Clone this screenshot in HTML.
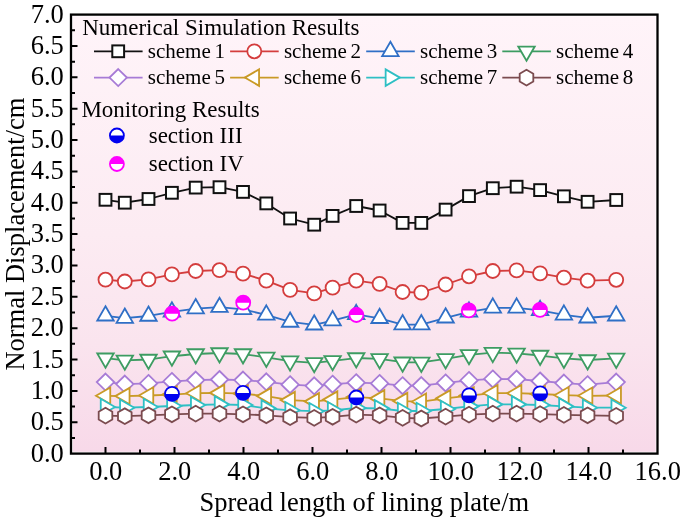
<!DOCTYPE html><html><head><meta charset="utf-8"><style>html,body{margin:0;padding:0;background:#fff;}svg{display:block;will-change:transform;}text{font-family:"Liberation Serif",serif;fill:#000;}</style></head><body>
<svg width="685" height="521" viewBox="0 0 685 521">
<defs><linearGradient id="bg" x1="0" y1="0" x2="0" y2="1"><stop offset="0" stop-color="rgb(255,244,249)"/><stop offset="0.5" stop-color="rgb(252,235,242)"/><stop offset="0.75" stop-color="rgb(250,228,238)"/><stop offset="1" stop-color="rgb(248,217,233)"/></linearGradient></defs>
<rect x="72.8" y="16.4" width="582.9" height="435.4" fill="url(#bg)"/>
<polyline points="105.5,199.8 124.8,202.7 148.5,199 171.9,192.8 195.7,187.6 219.5,187.2 243,191.9 266.3,203.4 290.1,218.5 314.2,224.7 332.6,215.9 356.2,206 379.6,210.5 402.6,222.9 421.3,222.9 445.6,209.6 469,196.1 492.8,188.2 516.6,186.7 540.1,190.1 563.9,196.3 587.6,201.8 616.2,200" fill="none" stroke="#111111" stroke-width="1.8" stroke-linejoin="round"/>
<rect x="99.6" y="193.9" width="11.8" height="11.8" fill="#fff" stroke="#111111" stroke-width="2"/>
<rect x="118.9" y="196.8" width="11.8" height="11.8" fill="#fff" stroke="#111111" stroke-width="2"/>
<rect x="142.6" y="193.1" width="11.8" height="11.8" fill="#fff" stroke="#111111" stroke-width="2"/>
<rect x="166" y="186.9" width="11.8" height="11.8" fill="#fff" stroke="#111111" stroke-width="2"/>
<rect x="189.8" y="181.7" width="11.8" height="11.8" fill="#fff" stroke="#111111" stroke-width="2"/>
<rect x="213.6" y="181.3" width="11.8" height="11.8" fill="#fff" stroke="#111111" stroke-width="2"/>
<rect x="237.1" y="186" width="11.8" height="11.8" fill="#fff" stroke="#111111" stroke-width="2"/>
<rect x="260.4" y="197.5" width="11.8" height="11.8" fill="#fff" stroke="#111111" stroke-width="2"/>
<rect x="284.2" y="212.6" width="11.8" height="11.8" fill="#fff" stroke="#111111" stroke-width="2"/>
<rect x="308.3" y="218.8" width="11.8" height="11.8" fill="#fff" stroke="#111111" stroke-width="2"/>
<rect x="326.7" y="210" width="11.8" height="11.8" fill="#fff" stroke="#111111" stroke-width="2"/>
<rect x="350.3" y="200.1" width="11.8" height="11.8" fill="#fff" stroke="#111111" stroke-width="2"/>
<rect x="373.7" y="204.6" width="11.8" height="11.8" fill="#fff" stroke="#111111" stroke-width="2"/>
<rect x="396.7" y="217" width="11.8" height="11.8" fill="#fff" stroke="#111111" stroke-width="2"/>
<rect x="415.4" y="217" width="11.8" height="11.8" fill="#fff" stroke="#111111" stroke-width="2"/>
<rect x="439.7" y="203.7" width="11.8" height="11.8" fill="#fff" stroke="#111111" stroke-width="2"/>
<rect x="463.1" y="190.2" width="11.8" height="11.8" fill="#fff" stroke="#111111" stroke-width="2"/>
<rect x="486.9" y="182.3" width="11.8" height="11.8" fill="#fff" stroke="#111111" stroke-width="2"/>
<rect x="510.7" y="180.8" width="11.8" height="11.8" fill="#fff" stroke="#111111" stroke-width="2"/>
<rect x="534.2" y="184.2" width="11.8" height="11.8" fill="#fff" stroke="#111111" stroke-width="2"/>
<rect x="558" y="190.4" width="11.8" height="11.8" fill="#fff" stroke="#111111" stroke-width="2"/>
<rect x="581.7" y="195.9" width="11.8" height="11.8" fill="#fff" stroke="#111111" stroke-width="2"/>
<rect x="610.3" y="194.1" width="11.8" height="11.8" fill="#fff" stroke="#111111" stroke-width="2"/>
<polyline points="105.5,279.7 124.8,281.5 148.5,279.4 171.9,274.4 195.7,271 219.5,270.2 243,273.6 266.3,280.7 290.1,289.9 314.2,293.4 332.6,287.6 356.2,280.7 379.6,283.9 402.6,292 421.3,292.6 445.6,284.5 469,276.3 492.8,271 516.6,270.4 540.1,273.4 563.9,277.7 587.6,280.7 616.2,279.8" fill="none" stroke="#d43d3d" stroke-width="1.8" stroke-linejoin="round"/>
<circle cx="105.5" cy="279.7" r="7" fill="#fff" stroke="#d43d3d" stroke-width="1.8"/>
<circle cx="124.8" cy="281.5" r="7" fill="#fff" stroke="#d43d3d" stroke-width="1.8"/>
<circle cx="148.5" cy="279.4" r="7" fill="#fff" stroke="#d43d3d" stroke-width="1.8"/>
<circle cx="171.9" cy="274.4" r="7" fill="#fff" stroke="#d43d3d" stroke-width="1.8"/>
<circle cx="195.7" cy="271" r="7" fill="#fff" stroke="#d43d3d" stroke-width="1.8"/>
<circle cx="219.5" cy="270.2" r="7" fill="#fff" stroke="#d43d3d" stroke-width="1.8"/>
<circle cx="243" cy="273.6" r="7" fill="#fff" stroke="#d43d3d" stroke-width="1.8"/>
<circle cx="266.3" cy="280.7" r="7" fill="#fff" stroke="#d43d3d" stroke-width="1.8"/>
<circle cx="290.1" cy="289.9" r="7" fill="#fff" stroke="#d43d3d" stroke-width="1.8"/>
<circle cx="314.2" cy="293.4" r="7" fill="#fff" stroke="#d43d3d" stroke-width="1.8"/>
<circle cx="332.6" cy="287.6" r="7" fill="#fff" stroke="#d43d3d" stroke-width="1.8"/>
<circle cx="356.2" cy="280.7" r="7" fill="#fff" stroke="#d43d3d" stroke-width="1.8"/>
<circle cx="379.6" cy="283.9" r="7" fill="#fff" stroke="#d43d3d" stroke-width="1.8"/>
<circle cx="402.6" cy="292" r="7" fill="#fff" stroke="#d43d3d" stroke-width="1.8"/>
<circle cx="421.3" cy="292.6" r="7" fill="#fff" stroke="#d43d3d" stroke-width="1.8"/>
<circle cx="445.6" cy="284.5" r="7" fill="#fff" stroke="#d43d3d" stroke-width="1.8"/>
<circle cx="469" cy="276.3" r="7" fill="#fff" stroke="#d43d3d" stroke-width="1.8"/>
<circle cx="492.8" cy="271" r="7" fill="#fff" stroke="#d43d3d" stroke-width="1.8"/>
<circle cx="516.6" cy="270.4" r="7" fill="#fff" stroke="#d43d3d" stroke-width="1.8"/>
<circle cx="540.1" cy="273.4" r="7" fill="#fff" stroke="#d43d3d" stroke-width="1.8"/>
<circle cx="563.9" cy="277.7" r="7" fill="#fff" stroke="#d43d3d" stroke-width="1.8"/>
<circle cx="587.6" cy="280.7" r="7" fill="#fff" stroke="#d43d3d" stroke-width="1.8"/>
<circle cx="616.2" cy="279.8" r="7" fill="#fff" stroke="#d43d3d" stroke-width="1.8"/>
<polyline points="105.5,315.77 124.8,318.07 148.5,315.98 171.9,311.77 195.7,308.57 219.5,307.18 243,309.38 266.3,314.88 290.1,321.98 314.2,324.77 332.6,320.57 356.2,314.38 379.6,318.27 402.6,324.57 421.3,324.57 445.6,317.77 469,311.88 492.8,307.88 516.6,307.88 540.1,310.38 563.9,314.88 587.6,317.77 616.2,315.77" fill="none" stroke="#2f6fc6" stroke-width="1.8" stroke-linejoin="round"/>
<polygon points="105.5,306.27 113.73,320.52 97.27,320.52" fill="#fff" stroke="#2f6fc6" stroke-width="1.8" stroke-linejoin="miter"/>
<polygon points="124.8,308.57 133.03,322.82 116.57,322.82" fill="#fff" stroke="#2f6fc6" stroke-width="1.8" stroke-linejoin="miter"/>
<polygon points="148.5,306.48 156.73,320.73 140.27,320.73" fill="#fff" stroke="#2f6fc6" stroke-width="1.8" stroke-linejoin="miter"/>
<polygon points="171.9,302.27 180.13,316.52 163.67,316.52" fill="#fff" stroke="#2f6fc6" stroke-width="1.8" stroke-linejoin="miter"/>
<polygon points="195.7,299.07 203.93,313.32 187.47,313.32" fill="#fff" stroke="#2f6fc6" stroke-width="1.8" stroke-linejoin="miter"/>
<polygon points="219.5,297.68 227.73,311.93 211.27,311.93" fill="#fff" stroke="#2f6fc6" stroke-width="1.8" stroke-linejoin="miter"/>
<polygon points="243,299.88 251.23,314.12 234.77,314.12" fill="#fff" stroke="#2f6fc6" stroke-width="1.8" stroke-linejoin="miter"/>
<polygon points="266.3,305.38 274.53,319.62 258.07,319.62" fill="#fff" stroke="#2f6fc6" stroke-width="1.8" stroke-linejoin="miter"/>
<polygon points="290.1,312.48 298.33,326.73 281.87,326.73" fill="#fff" stroke="#2f6fc6" stroke-width="1.8" stroke-linejoin="miter"/>
<polygon points="314.2,315.27 322.43,329.52 305.97,329.52" fill="#fff" stroke="#2f6fc6" stroke-width="1.8" stroke-linejoin="miter"/>
<polygon points="332.6,311.07 340.83,325.32 324.37,325.32" fill="#fff" stroke="#2f6fc6" stroke-width="1.8" stroke-linejoin="miter"/>
<polygon points="356.2,304.88 364.43,319.12 347.97,319.12" fill="#fff" stroke="#2f6fc6" stroke-width="1.8" stroke-linejoin="miter"/>
<polygon points="379.6,308.77 387.83,323.02 371.37,323.02" fill="#fff" stroke="#2f6fc6" stroke-width="1.8" stroke-linejoin="miter"/>
<polygon points="402.6,315.07 410.83,329.32 394.37,329.32" fill="#fff" stroke="#2f6fc6" stroke-width="1.8" stroke-linejoin="miter"/>
<polygon points="421.3,315.07 429.53,329.32 413.07,329.32" fill="#fff" stroke="#2f6fc6" stroke-width="1.8" stroke-linejoin="miter"/>
<polygon points="445.6,308.27 453.83,322.52 437.37,322.52" fill="#fff" stroke="#2f6fc6" stroke-width="1.8" stroke-linejoin="miter"/>
<polygon points="469,302.38 477.23,316.62 460.77,316.62" fill="#fff" stroke="#2f6fc6" stroke-width="1.8" stroke-linejoin="miter"/>
<polygon points="492.8,298.38 501.03,312.62 484.57,312.62" fill="#fff" stroke="#2f6fc6" stroke-width="1.8" stroke-linejoin="miter"/>
<polygon points="516.6,298.38 524.83,312.62 508.37,312.62" fill="#fff" stroke="#2f6fc6" stroke-width="1.8" stroke-linejoin="miter"/>
<polygon points="540.1,300.88 548.33,315.12 531.87,315.12" fill="#fff" stroke="#2f6fc6" stroke-width="1.8" stroke-linejoin="miter"/>
<polygon points="563.9,305.38 572.13,319.62 555.67,319.62" fill="#fff" stroke="#2f6fc6" stroke-width="1.8" stroke-linejoin="miter"/>
<polygon points="587.6,308.27 595.83,322.52 579.37,322.52" fill="#fff" stroke="#2f6fc6" stroke-width="1.8" stroke-linejoin="miter"/>
<polygon points="616.2,306.27 624.43,320.52 607.97,320.52" fill="#fff" stroke="#2f6fc6" stroke-width="1.8" stroke-linejoin="miter"/>
<polyline points="105.5,358.23 124.8,360.32 148.5,359.52 171.9,356.23 195.7,354.02 219.5,353.02 243,354.02 266.3,357.43 290.1,361.12 314.2,362.82 332.6,360.82 356.2,358.02 379.6,358.93 402.6,362.23 421.3,362.43 445.6,358.93 469,354.82 492.8,352.62 516.6,353.32 540.1,355.52 563.9,358.43 587.6,360.02 616.2,358.43" fill="none" stroke="#3d9c62" stroke-width="1.8" stroke-linejoin="round"/>
<polygon points="105.5,367.73 113.73,353.48 97.27,353.48" fill="#fff" stroke="#3d9c62" stroke-width="1.8" stroke-linejoin="miter"/>
<polygon points="124.8,369.82 133.03,355.57 116.57,355.57" fill="#fff" stroke="#3d9c62" stroke-width="1.8" stroke-linejoin="miter"/>
<polygon points="148.5,369.02 156.73,354.77 140.27,354.77" fill="#fff" stroke="#3d9c62" stroke-width="1.8" stroke-linejoin="miter"/>
<polygon points="171.9,365.73 180.13,351.48 163.67,351.48" fill="#fff" stroke="#3d9c62" stroke-width="1.8" stroke-linejoin="miter"/>
<polygon points="195.7,363.52 203.93,349.27 187.47,349.27" fill="#fff" stroke="#3d9c62" stroke-width="1.8" stroke-linejoin="miter"/>
<polygon points="219.5,362.52 227.73,348.27 211.27,348.27" fill="#fff" stroke="#3d9c62" stroke-width="1.8" stroke-linejoin="miter"/>
<polygon points="243,363.52 251.23,349.27 234.77,349.27" fill="#fff" stroke="#3d9c62" stroke-width="1.8" stroke-linejoin="miter"/>
<polygon points="266.3,366.93 274.53,352.68 258.07,352.68" fill="#fff" stroke="#3d9c62" stroke-width="1.8" stroke-linejoin="miter"/>
<polygon points="290.1,370.62 298.33,356.38 281.87,356.38" fill="#fff" stroke="#3d9c62" stroke-width="1.8" stroke-linejoin="miter"/>
<polygon points="314.2,372.32 322.43,358.07 305.97,358.07" fill="#fff" stroke="#3d9c62" stroke-width="1.8" stroke-linejoin="miter"/>
<polygon points="332.6,370.32 340.83,356.07 324.37,356.07" fill="#fff" stroke="#3d9c62" stroke-width="1.8" stroke-linejoin="miter"/>
<polygon points="356.2,367.52 364.43,353.27 347.97,353.27" fill="#fff" stroke="#3d9c62" stroke-width="1.8" stroke-linejoin="miter"/>
<polygon points="379.6,368.43 387.83,354.18 371.37,354.18" fill="#fff" stroke="#3d9c62" stroke-width="1.8" stroke-linejoin="miter"/>
<polygon points="402.6,371.73 410.83,357.48 394.37,357.48" fill="#fff" stroke="#3d9c62" stroke-width="1.8" stroke-linejoin="miter"/>
<polygon points="421.3,371.93 429.53,357.68 413.07,357.68" fill="#fff" stroke="#3d9c62" stroke-width="1.8" stroke-linejoin="miter"/>
<polygon points="445.6,368.43 453.83,354.18 437.37,354.18" fill="#fff" stroke="#3d9c62" stroke-width="1.8" stroke-linejoin="miter"/>
<polygon points="469,364.32 477.23,350.07 460.77,350.07" fill="#fff" stroke="#3d9c62" stroke-width="1.8" stroke-linejoin="miter"/>
<polygon points="492.8,362.12 501.03,347.88 484.57,347.88" fill="#fff" stroke="#3d9c62" stroke-width="1.8" stroke-linejoin="miter"/>
<polygon points="516.6,362.82 524.83,348.57 508.37,348.57" fill="#fff" stroke="#3d9c62" stroke-width="1.8" stroke-linejoin="miter"/>
<polygon points="540.1,365.02 548.33,350.77 531.87,350.77" fill="#fff" stroke="#3d9c62" stroke-width="1.8" stroke-linejoin="miter"/>
<polygon points="563.9,367.93 572.13,353.68 555.67,353.68" fill="#fff" stroke="#3d9c62" stroke-width="1.8" stroke-linejoin="miter"/>
<polygon points="587.6,369.52 595.83,355.27 579.37,355.27" fill="#fff" stroke="#3d9c62" stroke-width="1.8" stroke-linejoin="miter"/>
<polygon points="616.2,367.93 624.43,353.68 607.97,353.68" fill="#fff" stroke="#3d9c62" stroke-width="1.8" stroke-linejoin="miter"/>
<polyline points="105.5,382.1 124.8,384.1 148.5,383.4 171.9,381.4 195.7,380.1 219.5,379.5 243,380.1 266.3,381.8 290.1,384.7 314.2,385.8 332.6,384.2 356.2,382.7 379.6,383.4 402.6,385.7 421.3,385.6 445.6,382.9 469,380.4 492.8,378.9 516.6,379.1 540.1,381 563.9,383.1 587.6,384.7 616.2,382.1" fill="none" stroke="#a77bd6" stroke-width="1.8" stroke-linejoin="round"/>
<polygon points="105.5,373.6 114.2,382.1 105.5,390.6 96.8,382.1" fill="#fff" stroke="#a77bd6" stroke-width="1.8" stroke-linejoin="miter"/>
<polygon points="124.8,375.6 133.5,384.1 124.8,392.6 116.1,384.1" fill="#fff" stroke="#a77bd6" stroke-width="1.8" stroke-linejoin="miter"/>
<polygon points="148.5,374.9 157.2,383.4 148.5,391.9 139.8,383.4" fill="#fff" stroke="#a77bd6" stroke-width="1.8" stroke-linejoin="miter"/>
<polygon points="171.9,372.9 180.6,381.4 171.9,389.9 163.2,381.4" fill="#fff" stroke="#a77bd6" stroke-width="1.8" stroke-linejoin="miter"/>
<polygon points="195.7,371.6 204.4,380.1 195.7,388.6 187,380.1" fill="#fff" stroke="#a77bd6" stroke-width="1.8" stroke-linejoin="miter"/>
<polygon points="219.5,371 228.2,379.5 219.5,388 210.8,379.5" fill="#fff" stroke="#a77bd6" stroke-width="1.8" stroke-linejoin="miter"/>
<polygon points="243,371.6 251.7,380.1 243,388.6 234.3,380.1" fill="#fff" stroke="#a77bd6" stroke-width="1.8" stroke-linejoin="miter"/>
<polygon points="266.3,373.3 275,381.8 266.3,390.3 257.6,381.8" fill="#fff" stroke="#a77bd6" stroke-width="1.8" stroke-linejoin="miter"/>
<polygon points="290.1,376.2 298.8,384.7 290.1,393.2 281.4,384.7" fill="#fff" stroke="#a77bd6" stroke-width="1.8" stroke-linejoin="miter"/>
<polygon points="314.2,377.3 322.9,385.8 314.2,394.3 305.5,385.8" fill="#fff" stroke="#a77bd6" stroke-width="1.8" stroke-linejoin="miter"/>
<polygon points="332.6,375.7 341.3,384.2 332.6,392.7 323.9,384.2" fill="#fff" stroke="#a77bd6" stroke-width="1.8" stroke-linejoin="miter"/>
<polygon points="356.2,374.2 364.9,382.7 356.2,391.2 347.5,382.7" fill="#fff" stroke="#a77bd6" stroke-width="1.8" stroke-linejoin="miter"/>
<polygon points="379.6,374.9 388.3,383.4 379.6,391.9 370.9,383.4" fill="#fff" stroke="#a77bd6" stroke-width="1.8" stroke-linejoin="miter"/>
<polygon points="402.6,377.2 411.3,385.7 402.6,394.2 393.9,385.7" fill="#fff" stroke="#a77bd6" stroke-width="1.8" stroke-linejoin="miter"/>
<polygon points="421.3,377.1 430,385.6 421.3,394.1 412.6,385.6" fill="#fff" stroke="#a77bd6" stroke-width="1.8" stroke-linejoin="miter"/>
<polygon points="445.6,374.4 454.3,382.9 445.6,391.4 436.9,382.9" fill="#fff" stroke="#a77bd6" stroke-width="1.8" stroke-linejoin="miter"/>
<polygon points="469,371.9 477.7,380.4 469,388.9 460.3,380.4" fill="#fff" stroke="#a77bd6" stroke-width="1.8" stroke-linejoin="miter"/>
<polygon points="492.8,370.4 501.5,378.9 492.8,387.4 484.1,378.9" fill="#fff" stroke="#a77bd6" stroke-width="1.8" stroke-linejoin="miter"/>
<polygon points="516.6,370.6 525.3,379.1 516.6,387.6 507.9,379.1" fill="#fff" stroke="#a77bd6" stroke-width="1.8" stroke-linejoin="miter"/>
<polygon points="540.1,372.5 548.8,381 540.1,389.5 531.4,381" fill="#fff" stroke="#a77bd6" stroke-width="1.8" stroke-linejoin="miter"/>
<polygon points="563.9,374.6 572.6,383.1 563.9,391.6 555.2,383.1" fill="#fff" stroke="#a77bd6" stroke-width="1.8" stroke-linejoin="miter"/>
<polygon points="587.6,376.2 596.3,384.7 587.6,393.2 578.9,384.7" fill="#fff" stroke="#a77bd6" stroke-width="1.8" stroke-linejoin="miter"/>
<polygon points="616.2,373.6 624.9,382.1 616.2,390.6 607.5,382.1" fill="#fff" stroke="#a77bd6" stroke-width="1.8" stroke-linejoin="miter"/>
<polyline points="105.5,395.8 124.8,396.1 148.5,395.5 171.9,394.6 195.7,393.2 219.5,392.9 243,393.6 266.3,396.1 290.1,400.1 314.2,401.4 332.6,399.6 356.2,397.1 379.6,398.4 402.6,401.1 421.3,401.7 445.6,398.4 469,395.6 492.8,393.2 516.6,393.2 540.1,394 563.9,395.2 587.6,395.8 616.2,395.5" fill="none" stroke="#c99a26" stroke-width="1.8" stroke-linejoin="round"/>
<polygon points="96,395.8 110.25,387.57 110.25,404.03" fill="#fff" stroke="#c99a26" stroke-width="1.8" stroke-linejoin="miter"/>
<polygon points="115.3,396.1 129.55,387.87 129.55,404.33" fill="#fff" stroke="#c99a26" stroke-width="1.8" stroke-linejoin="miter"/>
<polygon points="139,395.5 153.25,387.27 153.25,403.73" fill="#fff" stroke="#c99a26" stroke-width="1.8" stroke-linejoin="miter"/>
<polygon points="162.4,394.6 176.65,386.37 176.65,402.83" fill="#fff" stroke="#c99a26" stroke-width="1.8" stroke-linejoin="miter"/>
<polygon points="186.2,393.2 200.45,384.97 200.45,401.43" fill="#fff" stroke="#c99a26" stroke-width="1.8" stroke-linejoin="miter"/>
<polygon points="210,392.9 224.25,384.67 224.25,401.13" fill="#fff" stroke="#c99a26" stroke-width="1.8" stroke-linejoin="miter"/>
<polygon points="233.5,393.6 247.75,385.37 247.75,401.83" fill="#fff" stroke="#c99a26" stroke-width="1.8" stroke-linejoin="miter"/>
<polygon points="256.8,396.1 271.05,387.87 271.05,404.33" fill="#fff" stroke="#c99a26" stroke-width="1.8" stroke-linejoin="miter"/>
<polygon points="280.6,400.1 294.85,391.87 294.85,408.33" fill="#fff" stroke="#c99a26" stroke-width="1.8" stroke-linejoin="miter"/>
<polygon points="304.7,401.4 318.95,393.17 318.95,409.63" fill="#fff" stroke="#c99a26" stroke-width="1.8" stroke-linejoin="miter"/>
<polygon points="323.1,399.6 337.35,391.37 337.35,407.83" fill="#fff" stroke="#c99a26" stroke-width="1.8" stroke-linejoin="miter"/>
<polygon points="346.7,397.1 360.95,388.87 360.95,405.33" fill="#fff" stroke="#c99a26" stroke-width="1.8" stroke-linejoin="miter"/>
<polygon points="370.1,398.4 384.35,390.17 384.35,406.63" fill="#fff" stroke="#c99a26" stroke-width="1.8" stroke-linejoin="miter"/>
<polygon points="393.1,401.1 407.35,392.87 407.35,409.33" fill="#fff" stroke="#c99a26" stroke-width="1.8" stroke-linejoin="miter"/>
<polygon points="411.8,401.7 426.05,393.47 426.05,409.93" fill="#fff" stroke="#c99a26" stroke-width="1.8" stroke-linejoin="miter"/>
<polygon points="436.1,398.4 450.35,390.17 450.35,406.63" fill="#fff" stroke="#c99a26" stroke-width="1.8" stroke-linejoin="miter"/>
<polygon points="459.5,395.6 473.75,387.37 473.75,403.83" fill="#fff" stroke="#c99a26" stroke-width="1.8" stroke-linejoin="miter"/>
<polygon points="483.3,393.2 497.55,384.97 497.55,401.43" fill="#fff" stroke="#c99a26" stroke-width="1.8" stroke-linejoin="miter"/>
<polygon points="507.1,393.2 521.35,384.97 521.35,401.43" fill="#fff" stroke="#c99a26" stroke-width="1.8" stroke-linejoin="miter"/>
<polygon points="530.6,394 544.85,385.77 544.85,402.23" fill="#fff" stroke="#c99a26" stroke-width="1.8" stroke-linejoin="miter"/>
<polygon points="554.4,395.2 568.65,386.97 568.65,403.43" fill="#fff" stroke="#c99a26" stroke-width="1.8" stroke-linejoin="miter"/>
<polygon points="578.1,395.8 592.35,387.57 592.35,404.03" fill="#fff" stroke="#c99a26" stroke-width="1.8" stroke-linejoin="miter"/>
<polygon points="606.7,395.5 620.95,387.27 620.95,403.73" fill="#fff" stroke="#c99a26" stroke-width="1.8" stroke-linejoin="miter"/>
<polyline points="105.5,407 124.8,407.7 148.5,407 171.9,406 195.7,405 219.5,404.4 243,405 266.3,408.4 290.1,410.3 314.2,411.2 332.6,410.3 356.2,408 379.6,408.4 402.6,411 421.3,411 445.6,409 469,406.4 492.8,404.4 516.6,404.4 540.1,405 563.9,406.4 587.6,407.7 616.2,407.7" fill="none" stroke="#2ebfc4" stroke-width="1.8" stroke-linejoin="round"/>
<polygon points="115,407 100.75,398.77 100.75,415.23" fill="#fff" stroke="#2ebfc4" stroke-width="1.8" stroke-linejoin="miter"/>
<polygon points="134.3,407.7 120.05,399.47 120.05,415.93" fill="#fff" stroke="#2ebfc4" stroke-width="1.8" stroke-linejoin="miter"/>
<polygon points="158,407 143.75,398.77 143.75,415.23" fill="#fff" stroke="#2ebfc4" stroke-width="1.8" stroke-linejoin="miter"/>
<polygon points="181.4,406 167.15,397.77 167.15,414.23" fill="#fff" stroke="#2ebfc4" stroke-width="1.8" stroke-linejoin="miter"/>
<polygon points="205.2,405 190.95,396.77 190.95,413.23" fill="#fff" stroke="#2ebfc4" stroke-width="1.8" stroke-linejoin="miter"/>
<polygon points="229,404.4 214.75,396.17 214.75,412.63" fill="#fff" stroke="#2ebfc4" stroke-width="1.8" stroke-linejoin="miter"/>
<polygon points="252.5,405 238.25,396.77 238.25,413.23" fill="#fff" stroke="#2ebfc4" stroke-width="1.8" stroke-linejoin="miter"/>
<polygon points="275.8,408.4 261.55,400.17 261.55,416.63" fill="#fff" stroke="#2ebfc4" stroke-width="1.8" stroke-linejoin="miter"/>
<polygon points="299.6,410.3 285.35,402.07 285.35,418.53" fill="#fff" stroke="#2ebfc4" stroke-width="1.8" stroke-linejoin="miter"/>
<polygon points="323.7,411.2 309.45,402.97 309.45,419.43" fill="#fff" stroke="#2ebfc4" stroke-width="1.8" stroke-linejoin="miter"/>
<polygon points="342.1,410.3 327.85,402.07 327.85,418.53" fill="#fff" stroke="#2ebfc4" stroke-width="1.8" stroke-linejoin="miter"/>
<polygon points="365.7,408 351.45,399.77 351.45,416.23" fill="#fff" stroke="#2ebfc4" stroke-width="1.8" stroke-linejoin="miter"/>
<polygon points="389.1,408.4 374.85,400.17 374.85,416.63" fill="#fff" stroke="#2ebfc4" stroke-width="1.8" stroke-linejoin="miter"/>
<polygon points="412.1,411 397.85,402.77 397.85,419.23" fill="#fff" stroke="#2ebfc4" stroke-width="1.8" stroke-linejoin="miter"/>
<polygon points="430.8,411 416.55,402.77 416.55,419.23" fill="#fff" stroke="#2ebfc4" stroke-width="1.8" stroke-linejoin="miter"/>
<polygon points="455.1,409 440.85,400.77 440.85,417.23" fill="#fff" stroke="#2ebfc4" stroke-width="1.8" stroke-linejoin="miter"/>
<polygon points="478.5,406.4 464.25,398.17 464.25,414.63" fill="#fff" stroke="#2ebfc4" stroke-width="1.8" stroke-linejoin="miter"/>
<polygon points="502.3,404.4 488.05,396.17 488.05,412.63" fill="#fff" stroke="#2ebfc4" stroke-width="1.8" stroke-linejoin="miter"/>
<polygon points="526.1,404.4 511.85,396.17 511.85,412.63" fill="#fff" stroke="#2ebfc4" stroke-width="1.8" stroke-linejoin="miter"/>
<polygon points="549.6,405 535.35,396.77 535.35,413.23" fill="#fff" stroke="#2ebfc4" stroke-width="1.8" stroke-linejoin="miter"/>
<polygon points="573.4,406.4 559.15,398.17 559.15,414.63" fill="#fff" stroke="#2ebfc4" stroke-width="1.8" stroke-linejoin="miter"/>
<polygon points="597.1,407.7 582.85,399.47 582.85,415.93" fill="#fff" stroke="#2ebfc4" stroke-width="1.8" stroke-linejoin="miter"/>
<polygon points="625.7,407.7 611.45,399.47 611.45,415.93" fill="#fff" stroke="#2ebfc4" stroke-width="1.8" stroke-linejoin="miter"/>
<polyline points="105.5,415.6 124.8,416.2 148.5,415.3 171.9,414.3 195.7,413.6 219.5,413.6 243,414.3 266.3,415.3 290.1,417.2 314.2,417.9 332.6,416.8 356.2,414.6 379.6,415.3 402.6,417.9 421.3,418.5 445.6,416.6 469,414.6 492.8,413.6 516.6,413.6 540.1,414.1 563.9,414.9 587.6,415.3 616.2,415.9" fill="none" stroke="#7b4b4f" stroke-width="1.8" stroke-linejoin="round"/>
<polygon points="105.5,407.75 98.7,411.68 98.7,419.53 105.5,423.45 112.3,419.53 112.3,411.68" fill="#fff" stroke="#7b4b4f" stroke-width="1.8" stroke-linejoin="miter"/>
<polygon points="124.8,408.35 118,412.27 118,420.12 124.8,424.05 131.6,420.12 131.6,412.27" fill="#fff" stroke="#7b4b4f" stroke-width="1.8" stroke-linejoin="miter"/>
<polygon points="148.5,407.45 141.7,411.38 141.7,419.23 148.5,423.15 155.3,419.23 155.3,411.38" fill="#fff" stroke="#7b4b4f" stroke-width="1.8" stroke-linejoin="miter"/>
<polygon points="171.9,406.45 165.1,410.38 165.1,418.23 171.9,422.15 178.7,418.23 178.7,410.38" fill="#fff" stroke="#7b4b4f" stroke-width="1.8" stroke-linejoin="miter"/>
<polygon points="195.7,405.75 188.9,409.68 188.9,417.53 195.7,421.45 202.5,417.53 202.5,409.68" fill="#fff" stroke="#7b4b4f" stroke-width="1.8" stroke-linejoin="miter"/>
<polygon points="219.5,405.75 212.7,409.68 212.7,417.53 219.5,421.45 226.3,417.53 226.3,409.68" fill="#fff" stroke="#7b4b4f" stroke-width="1.8" stroke-linejoin="miter"/>
<polygon points="243,406.45 236.2,410.38 236.2,418.23 243,422.15 249.8,418.23 249.8,410.38" fill="#fff" stroke="#7b4b4f" stroke-width="1.8" stroke-linejoin="miter"/>
<polygon points="266.3,407.45 259.5,411.38 259.5,419.23 266.3,423.15 273.1,419.23 273.1,411.38" fill="#fff" stroke="#7b4b4f" stroke-width="1.8" stroke-linejoin="miter"/>
<polygon points="290.1,409.35 283.3,413.27 283.3,421.12 290.1,425.05 296.9,421.12 296.9,413.27" fill="#fff" stroke="#7b4b4f" stroke-width="1.8" stroke-linejoin="miter"/>
<polygon points="314.2,410.05 307.4,413.97 307.4,421.82 314.2,425.75 321,421.82 321,413.97" fill="#fff" stroke="#7b4b4f" stroke-width="1.8" stroke-linejoin="miter"/>
<polygon points="332.6,408.95 325.8,412.88 325.8,420.73 332.6,424.65 339.4,420.73 339.4,412.88" fill="#fff" stroke="#7b4b4f" stroke-width="1.8" stroke-linejoin="miter"/>
<polygon points="356.2,406.75 349.4,410.68 349.4,418.53 356.2,422.45 363,418.53 363,410.68" fill="#fff" stroke="#7b4b4f" stroke-width="1.8" stroke-linejoin="miter"/>
<polygon points="379.6,407.45 372.8,411.38 372.8,419.23 379.6,423.15 386.4,419.23 386.4,411.38" fill="#fff" stroke="#7b4b4f" stroke-width="1.8" stroke-linejoin="miter"/>
<polygon points="402.6,410.05 395.8,413.97 395.8,421.82 402.6,425.75 409.4,421.82 409.4,413.97" fill="#fff" stroke="#7b4b4f" stroke-width="1.8" stroke-linejoin="miter"/>
<polygon points="421.3,410.65 414.5,414.57 414.5,422.43 421.3,426.35 428.1,422.43 428.1,414.57" fill="#fff" stroke="#7b4b4f" stroke-width="1.8" stroke-linejoin="miter"/>
<polygon points="445.6,408.75 438.8,412.68 438.8,420.53 445.6,424.45 452.4,420.53 452.4,412.68" fill="#fff" stroke="#7b4b4f" stroke-width="1.8" stroke-linejoin="miter"/>
<polygon points="469,406.75 462.2,410.68 462.2,418.53 469,422.45 475.8,418.53 475.8,410.68" fill="#fff" stroke="#7b4b4f" stroke-width="1.8" stroke-linejoin="miter"/>
<polygon points="492.8,405.75 486,409.68 486,417.53 492.8,421.45 499.6,417.53 499.6,409.68" fill="#fff" stroke="#7b4b4f" stroke-width="1.8" stroke-linejoin="miter"/>
<polygon points="516.6,405.75 509.8,409.68 509.8,417.53 516.6,421.45 523.4,417.53 523.4,409.68" fill="#fff" stroke="#7b4b4f" stroke-width="1.8" stroke-linejoin="miter"/>
<polygon points="540.1,406.25 533.3,410.18 533.3,418.03 540.1,421.95 546.9,418.03 546.9,410.18" fill="#fff" stroke="#7b4b4f" stroke-width="1.8" stroke-linejoin="miter"/>
<polygon points="563.9,407.05 557.1,410.97 557.1,418.82 563.9,422.75 570.7,418.82 570.7,410.97" fill="#fff" stroke="#7b4b4f" stroke-width="1.8" stroke-linejoin="miter"/>
<polygon points="587.6,407.45 580.8,411.38 580.8,419.23 587.6,423.15 594.4,419.23 594.4,411.38" fill="#fff" stroke="#7b4b4f" stroke-width="1.8" stroke-linejoin="miter"/>
<polygon points="616.2,408.05 609.4,411.97 609.4,419.82 616.2,423.75 623,419.82 623,411.97" fill="#fff" stroke="#7b4b4f" stroke-width="1.8" stroke-linejoin="miter"/>
<circle cx="172" cy="393.9" r="7" fill="#fff" stroke="#0000f0" stroke-width="1.8"/><path d="M165,393.9 A7,7 0 0 0 179,393.9 Z" fill="#0000f0"/>
<circle cx="243" cy="392.9" r="7" fill="#fff" stroke="#0000f0" stroke-width="1.8"/><path d="M236,392.9 A7,7 0 0 0 250,392.9 Z" fill="#0000f0"/>
<circle cx="356.3" cy="397.5" r="7" fill="#fff" stroke="#0000f0" stroke-width="1.8"/><path d="M349.3,397.5 A7,7 0 0 0 363.3,397.5 Z" fill="#0000f0"/>
<circle cx="469.1" cy="395.4" r="7" fill="#fff" stroke="#0000f0" stroke-width="1.8"/><path d="M462.1,395.4 A7,7 0 0 0 476.1,395.4 Z" fill="#0000f0"/>
<circle cx="540.2" cy="393.4" r="7" fill="#fff" stroke="#0000f0" stroke-width="1.8"/><path d="M533.2,393.4 A7,7 0 0 0 547.2,393.4 Z" fill="#0000f0"/>
<circle cx="172.1" cy="313.7" r="7" fill="#fff" stroke="#ff00ff" stroke-width="1.8"/><path d="M165.1,313.7 A7,7 0 0 1 179.1,313.7 Z" fill="#ff00ff"/>
<circle cx="243.2" cy="302.7" r="7" fill="#fff" stroke="#ff00ff" stroke-width="1.8"/><path d="M236.2,302.7 A7,7 0 0 1 250.2,302.7 Z" fill="#ff00ff"/>
<circle cx="356.4" cy="315" r="7" fill="#fff" stroke="#ff00ff" stroke-width="1.8"/><path d="M349.4,315 A7,7 0 0 1 363.4,315 Z" fill="#ff00ff"/>
<circle cx="468.8" cy="310.4" r="7" fill="#fff" stroke="#ff00ff" stroke-width="1.8"/><path d="M461.8,310.4 A7,7 0 0 1 475.8,310.4 Z" fill="#ff00ff"/>
<circle cx="540" cy="309.9" r="7" fill="#fff" stroke="#ff00ff" stroke-width="1.8"/><path d="M533,309.9 A7,7 0 0 1 547,309.9 Z" fill="#ff00ff"/>
<path d="M71,437.92h4 M71,422.24h6.5 M71,406.56h4 M71,390.89h6.5 M71,375.21h4 M71,359.53h6.5 M71,343.85h4 M71,328.17h6.5 M71,312.49h4 M71,296.81h6.5 M71,281.14h4 M71,265.46h6.5 M71,249.78h4 M71,234.1h6.5 M71,218.42h4 M71,202.74h6.5 M71,187.06h4 M71,171.39h6.5 M71,155.71h4 M71,140.03h6.5 M71,124.35h4 M71,108.67h6.5 M71,92.99h4 M71,77.31h6.5 M71,61.64h4 M71,45.96h6.5 M71,30.28h4 M105.5,453.6v-6.5 M140,453.6v-4 M174.5,453.6v-6.5 M209,453.6v-4 M243.5,453.6v-6.5 M278,453.6v-4 M312.5,453.6v-6.5 M347,453.6v-4 M381.5,453.6v-6.5 M416,453.6v-4 M450.5,453.6v-6.5 M485,453.6v-4 M519.5,453.6v-6.5 M554,453.6v-4 M588.5,453.6v-6.5 M623,453.6v-4" stroke="#000" stroke-width="2" fill="none"/>
<rect x="71" y="14.6" width="586.5" height="439" fill="none" stroke="#000" stroke-width="2.3"/>
<text x="63.8" y="461.6" font-size="26.5" text-anchor="end">0.0</text>
<text x="63.8" y="430.24" font-size="26.5" text-anchor="end">0.5</text>
<text x="63.8" y="398.89" font-size="26.5" text-anchor="end">1.0</text>
<text x="63.8" y="367.53" font-size="26.5" text-anchor="end">1.5</text>
<text x="63.8" y="336.17" font-size="26.5" text-anchor="end">2.0</text>
<text x="63.8" y="304.81" font-size="26.5" text-anchor="end">2.5</text>
<text x="63.8" y="273.46" font-size="26.5" text-anchor="end">3.0</text>
<text x="63.8" y="242.1" font-size="26.5" text-anchor="end">3.5</text>
<text x="63.8" y="210.74" font-size="26.5" text-anchor="end">4.0</text>
<text x="63.8" y="179.39" font-size="26.5" text-anchor="end">4.5</text>
<text x="63.8" y="148.03" font-size="26.5" text-anchor="end">5.0</text>
<text x="63.8" y="116.67" font-size="26.5" text-anchor="end">5.5</text>
<text x="63.8" y="85.31" font-size="26.5" text-anchor="end">6.0</text>
<text x="63.8" y="53.96" font-size="26.5" text-anchor="end">6.5</text>
<text x="63.8" y="22.6" font-size="26.5" text-anchor="end">7.0</text>
<text x="105.8" y="479.8" font-size="26.5" text-anchor="middle">0.0</text>
<text x="174.8" y="479.8" font-size="26.5" text-anchor="middle">2.0</text>
<text x="243.8" y="479.8" font-size="26.5" text-anchor="middle">4.0</text>
<text x="312.8" y="479.8" font-size="26.5" text-anchor="middle">6.0</text>
<text x="381.8" y="479.8" font-size="26.5" text-anchor="middle">8.0</text>
<text x="450.8" y="479.8" font-size="26.5" text-anchor="middle">10.0</text>
<text x="519.8" y="479.8" font-size="26.5" text-anchor="middle">12.0</text>
<text x="588.8" y="479.8" font-size="26.5" text-anchor="middle">14.0</text>
<text x="657.8" y="479.8" font-size="26.5" text-anchor="middle">16.0</text>
<text x="364.25" y="510.7" font-size="26.5" text-anchor="middle">Spread length of lining plate/m</text>
<text transform="translate(24.2,234.1) rotate(-90)" font-size="26.5" text-anchor="middle">Normal Displacement/cm</text>
<text x="82.2" y="35.4" font-size="23">Numerical Simulation Results</text>
<path d="M94,51.3h48.6" stroke="#111111" stroke-width="1.8"/>
<rect x="112.3" y="45.4" width="11.8" height="11.8" fill="#fff" stroke="#111111" stroke-width="2"/>
<text x="147.8" y="58.1" font-size="21" word-spacing="-1.5">scheme 1</text>
<path d="M230.1,51.3h48.6" stroke="#d43d3d" stroke-width="1.8"/>
<circle cx="254.3" cy="51.3" r="7" fill="#fff" stroke="#d43d3d" stroke-width="1.8"/>
<text x="283.9" y="58.1" font-size="21" word-spacing="-1.5">scheme 2</text>
<path d="M366.2,51.3h48.6" stroke="#2f6fc6" stroke-width="1.8"/>
<polygon points="390.4,41.8 398.63,56.05 382.17,56.05" fill="#fff" stroke="#2f6fc6" stroke-width="1.8" stroke-linejoin="miter"/>
<text x="420" y="58.1" font-size="21" word-spacing="-1.5">scheme 3</text>
<path d="M502.3,51.3h48.6" stroke="#3d9c62" stroke-width="1.8"/>
<polygon points="526.5,60.8 534.73,46.55 518.27,46.55" fill="#fff" stroke="#3d9c62" stroke-width="1.8" stroke-linejoin="miter"/>
<text x="556.1" y="58.1" font-size="21" word-spacing="-1.5">scheme 4</text>
<path d="M94,77.6h48.6" stroke="#a77bd6" stroke-width="1.8"/>
<polygon points="118.2,69.1 126.9,77.6 118.2,86.1 109.5,77.6" fill="#fff" stroke="#a77bd6" stroke-width="1.8" stroke-linejoin="miter"/>
<text x="147.8" y="84.4" font-size="21" word-spacing="-1.5">scheme 5</text>
<path d="M230.1,77.6h48.6" stroke="#c99a26" stroke-width="1.8"/>
<polygon points="244.8,77.6 259.05,69.37 259.05,85.83" fill="#fff" stroke="#c99a26" stroke-width="1.8" stroke-linejoin="miter"/>
<text x="283.9" y="84.4" font-size="21" word-spacing="-1.5">scheme 6</text>
<path d="M366.2,77.6h48.6" stroke="#2ebfc4" stroke-width="1.8"/>
<polygon points="399.9,77.6 385.65,69.37 385.65,85.83" fill="#fff" stroke="#2ebfc4" stroke-width="1.8" stroke-linejoin="miter"/>
<text x="420" y="84.4" font-size="21" word-spacing="-1.5">scheme 7</text>
<path d="M502.3,77.6h48.6" stroke="#7b4b4f" stroke-width="1.8"/>
<polygon points="526.5,69.75 519.7,73.67 519.7,81.52 526.5,85.45 533.3,81.52 533.3,73.67" fill="#fff" stroke="#7b4b4f" stroke-width="1.8" stroke-linejoin="miter"/>
<text x="556.1" y="84.4" font-size="21" word-spacing="-1.5">scheme 8</text>
<text x="81.4" y="116.5" font-size="23">Monitoring Results</text>
<circle cx="116.9" cy="135.5" r="7" fill="#fff" stroke="#0000f0" stroke-width="1.8"/><path d="M109.9,135.5 A7,7 0 0 0 123.9,135.5 Z" fill="#0000f0"/>
<text x="148.7" y="143.3" font-size="23">section III</text>
<circle cx="116.9" cy="164" r="7" fill="#fff" stroke="#ff00ff" stroke-width="1.8"/><path d="M109.9,164 A7,7 0 0 1 123.9,164 Z" fill="#ff00ff"/>
<text x="148.7" y="171.4" font-size="23">section IV</text>
</svg></body></html>
